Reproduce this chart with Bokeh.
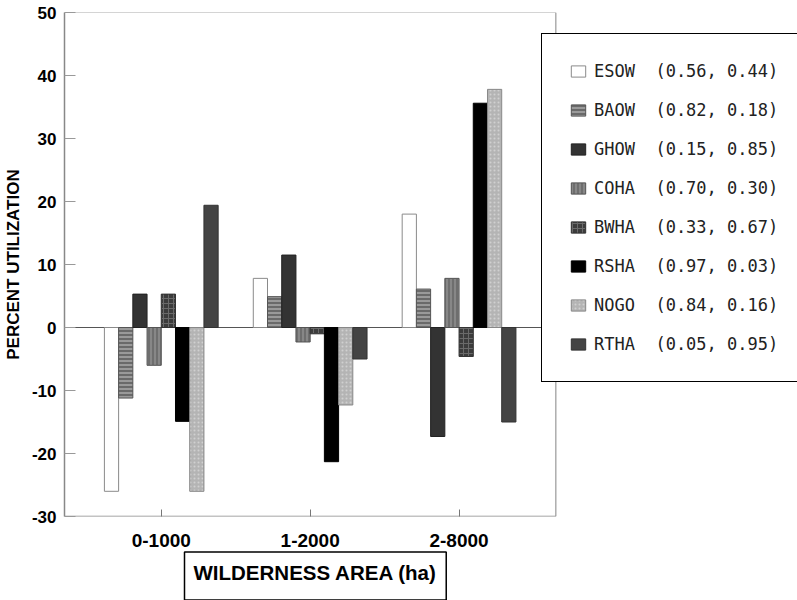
from bokeh.plotting import figure
from bokeh.models import ColumnDataSource, Range1d, FixedTicker, Title
from bokeh.transform import dodge
from bokeh.embed import file_html
from bokeh.resources import INLINE

# ---- data ----
categories = ["0-1000", "1-2000", "2-8000"]
species = ["ESOW", "BAOW", "GHOW", "COHA", "BWHA", "RSHA", "NOGO", "RTHA"]
prop_a = [0.56, 0.82, 0.15, 0.70, 0.33, 0.97, 0.84, 0.05]
prop_b = [0.44, 0.18, 0.85, 0.30, 0.67, 0.03, 0.16, 0.95]
esow = [-26.0, 7.8, 18.0]
baow = [-11.2, 4.9, 6.1]
ghow = [5.3, 11.5, -17.3]
coha = [-6.0, -2.3, 7.8]
bwha = [5.3, -1.0, -4.6]
rsha = [-14.9, -21.3, 35.6]
nogo = [-26.0, -12.3, 37.8]
rtha = [19.4, -5.0, -15.0]
y_ticks = [-30, -20, -10, 0, 10, 20, 30, 40, 50]

series = [esow, baow, ghow, coha, bwha, rsha, nogo, rtha]

# ---- layout (pixels) ----
W, H = 797, 600
FRAME_L, FRAME_R, FRAME_T, FRAME_B = 63, 555, 12, 516
X_LO, X_HI = -0.65, 2.65          # visible plot box in category units
Y_LO, Y_HI = -30, 50
x_end = X_LO + (X_HI - X_LO) * (W - FRAME_L) / (FRAME_R - FRAME_L)

# ---- styles ----
styles = [
    dict(fill_color="white", line_color="#8a8a8a"),
    dict(fill_color="#9a9a9a", line_color="#555555", hatch_pattern="horizontal_line", hatch_color="#3a3a3a", hatch_scale=4, hatch_weight=1),
    dict(fill_color="#333333", line_color="#222222"),
    dict(fill_color="#6e6e6e", line_color="#555555", hatch_pattern="vertical_line", hatch_color="#a0a0a0", hatch_scale=4, hatch_weight=1),
    dict(fill_color="#3c3c3c", line_color="#333333", hatch_pattern="cross", hatch_color="#6a6a6a", hatch_scale=5, hatch_weight=1),
    dict(fill_color="#000000", line_color="#000000"),
    dict(fill_color="#b4b4b4", line_color="#888888", hatch_pattern="dot", hatch_color="#d0d0d0", hatch_scale=4, hatch_weight=1),
    dict(fill_color="#444444", line_color="#333333"),
]

data = {"x": list(range(len(categories)))}
for name, vals in zip(species, series):
    data[name] = vals
source = ColumnDataSource(data)

p = figure(width=W, height=H, output_backend="svg", toolbar_location=None,
           x_range=Range1d(X_LO, x_end), y_range=Range1d(Y_LO, Y_HI),
           min_border_left=FRAME_L, min_border_right=0,
           min_border_top=FRAME_T, min_border_bottom=H - FRAME_B)
p.grid.visible = False
p.outline_line_color = None
p.background_fill_color = "white"
p.border_fill_color = "white"

# plot box lines (top, right, bottom) and zero line, limited to the chart area
p.segment(x0=[X_LO], y0=[Y_HI], x1=[X_HI], y1=[Y_HI], line_color="#aaaaaa", line_width=1.2, level="underlay")
p.segment(x0=[X_HI], y0=[Y_LO], x1=[X_HI], y1=[Y_HI], line_color="#999999", line_width=1.2, level="underlay")
p.segment(x0=[X_LO], y0=[Y_LO], x1=[X_HI], y1=[Y_LO], line_color="#888888", line_width=1.5, level="underlay")
p.segment(x0=[X_LO], y0=[0], x1=[X_HI], y1=[0], line_color="#555555", line_width=1.2, level="underlay")

bw = 0.0955
n = len(species)
for i, name in enumerate(species):
    off = (i - (n - 1) / 2) * bw
    label = f"{name}  ({prop_a[i]:.2f}, {prop_b[i]:.2f})"
    p.vbar(x=dodge("x", off), top=name, bottom=0, width=bw, source=source,
           legend_label=label, line_width=1, **styles[i])

# axes
p.xaxis.ticker = FixedTicker(ticks=list(range(len(categories))))
p.xaxis.major_label_overrides = {i: c for i, c in enumerate(categories)}
p.xaxis.major_tick_in = 7
p.xaxis.major_tick_out = 0
p.xaxis.minor_tick_line_color = None
p.xaxis.axis_line_color = None
p.xaxis.major_tick_line_color = "#777777"
p.xaxis.major_label_text_font = "Liberation Sans"
p.xaxis.major_label_text_font_style = "bold"
p.xaxis.major_label_text_font_size = "19px"
p.xaxis.major_label_text_color = "black"
p.xaxis.major_label_standoff = 17

p.yaxis.ticker = FixedTicker(ticks=y_ticks)
p.yaxis.major_label_overrides = {t: str(t) for t in y_ticks}
p.yaxis.major_tick_in = 11
p.yaxis.major_tick_out = 0
p.yaxis.minor_tick_line_color = None
p.yaxis.axis_line_color = "#888888"
p.yaxis.axis_line_width = 1.5
p.yaxis.major_tick_line_color = "#999999"
p.yaxis.major_label_text_font = "Liberation Sans"
p.yaxis.major_label_text_font_style = "bold"
p.yaxis.major_label_text_font_size = "17px"
p.yaxis.major_label_text_color = "black"
p.yaxis.major_label_standoff = 8
p.yaxis.axis_label = "PERCENT UTILIZATION"
p.yaxis.axis_label_text_font = "Liberation Sans"
p.yaxis.axis_label_text_font_style = "bold"
p.yaxis.axis_label_text_font_size = "17px"
p.yaxis.axis_label_text_color = "black"
p.yaxis.axis_label_standoff = 6

# x axis title in a box
xt = Title(text="WILDERNESS AREA (ha)", align="left", offset=120,
           text_font="Liberation Sans", text_font_style="bold", text_font_size="20.5px",
           text_color="black", border_line_color="black", border_line_width=1.5,
           background_fill_color="white",
           padding=dict(left=9, right=9, top=9, bottom=16), standoff=1)
p.add_layout(xt, "below")

# legend
lg = p.legend[0]
lg.location = (477, 134)
lg.padding = 27
lg.spacing = 19
lg.glyph_width = 18
lg.glyph_height = 14
lg.label_height = 20
lg.label_width = 260
lg.label_standoff = 7
lg.label_text_font = "DejaVu Sans Mono"
lg.label_text_font_size = "17px"
lg.label_text_color = "#222222"
lg.border_line_color = "black"
lg.border_line_alpha = 1.0
lg.border_line_width = 1.5
lg.background_fill_alpha = 1.0
lg.margin = 0

open("out.html", "w").write(file_html(p, INLINE))
